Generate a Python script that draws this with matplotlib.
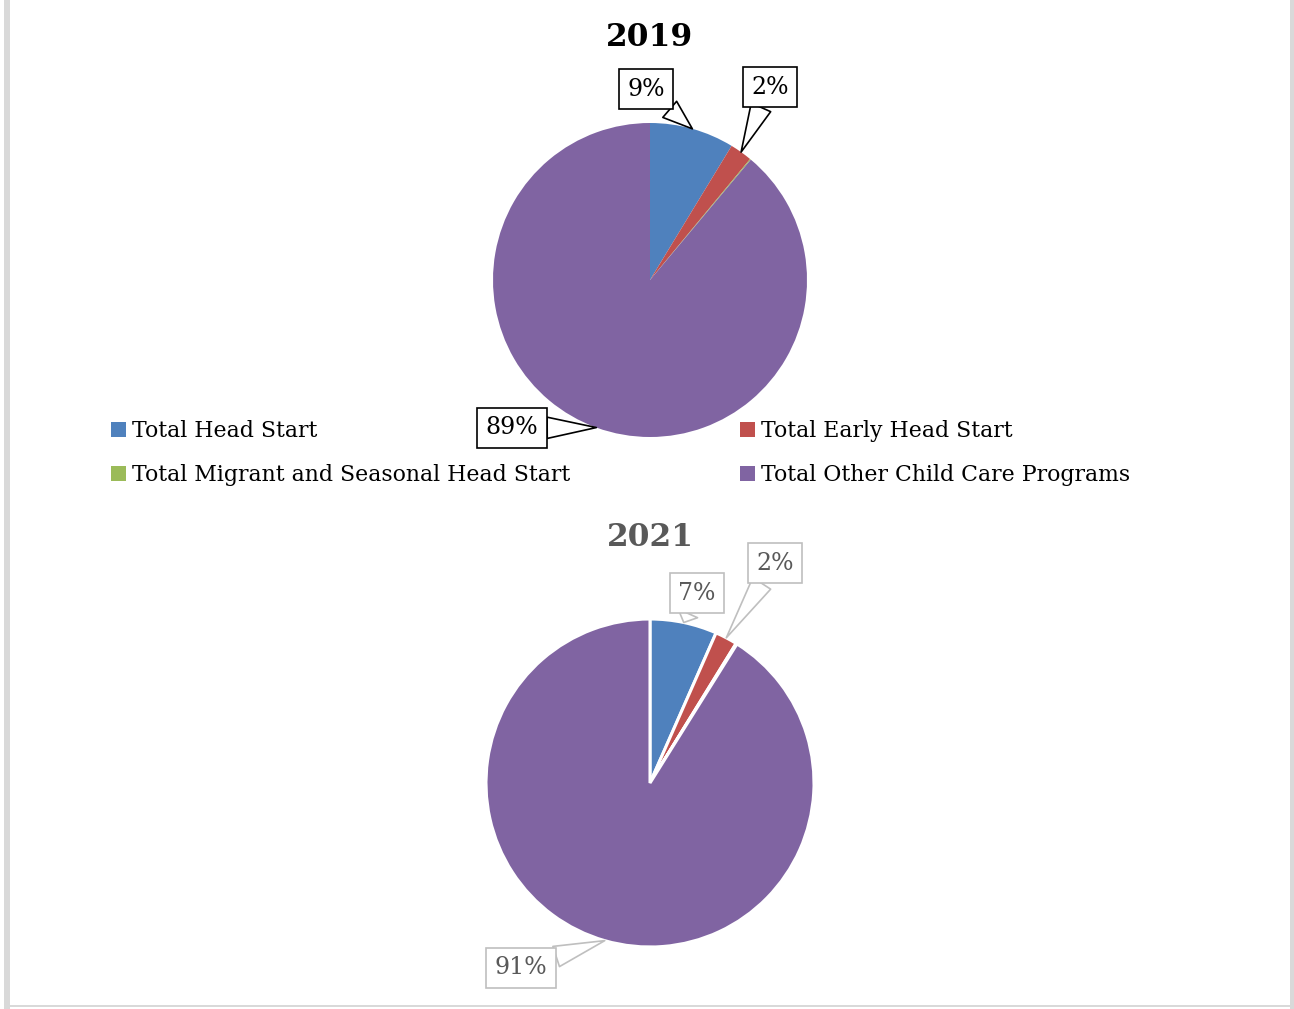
import matplotlib
matplotlib.use("Agg")
import matplotlib.pyplot as plt
from matplotlib.patches import Patch, Rectangle
import numpy as np

categories = ["Total Head Start", "Total Early Head Start",
              "Total Migrant and Seasonal Head Start", "Total Other Child Care Programs"]
values_2019 = [8.7, 2.3, 0.1, 88.9]
values_2021 = [6.6, 2.2, 0.1, 91.1]
years = ["2019", "2021"]

colors = ["#4F81BD", "#C0504D", "#9BBB59", "#8064A2"]

W, H = 1294, 1009
plt.rcParams['font.family'] = ['DejaVu Serif']

fig = plt.figure(figsize=(W / 100, H / 100), dpi=100)
ax = fig.add_axes([0, 0, 1, 1])


def py(y):
    return H - y


pie_specs = [
    dict(values=values_2019, cx=650, cy=280, r=157, lw=0, tc="black", ec="black", title_y=38,
         label_pos=[(646, 89), (770, 87), None, (512, 428)]),
    dict(values=values_2021, cx=650, cy=783, r=164, lw=2.2, tc="#595959", ec="#BFBFBF", title_y=537,
         label_pos=[(697, 593), (775, 563), None, (521, 968)]),
]

for year, spec in zip(years, pie_specs):
    wedges, _ = ax.pie(spec["values"], colors=colors, startangle=90, counterclock=False,
                       center=(spec["cx"], py(spec["cy"])), radius=spec["r"],
                       wedgeprops=dict(edgecolor="white", linewidth=spec["lw"]))
    ax.text(spec["cx"], py(spec["title_y"]), year, ha="center", va="center",
            fontsize=22.5, fontweight="bold", color=spec["tc"])
    for w, v, pos in zip(wedges, spec["values"], spec["label_pos"]):
        if pos is None:
            continue
        th = np.deg2rad((w.theta1 + w.theta2) / 2)
        xy = (spec["cx"] + spec["r"] * np.cos(th), py(spec["cy"]) + spec["r"] * np.sin(th))
        ax.annotate(f"{round(v)}%", xy=xy, xytext=(pos[0], py(pos[1])),
                    ha="center", va="center", fontsize=17, color=spec["tc"],
                    bbox=dict(boxstyle="square,pad=0.35", fc="white", ec=spec["ec"], lw=1.2),
                    arrowprops=dict(arrowstyle="wedge,tail_width=0.9,shrink_factor=0.5",
                                    fc="white", ec=spec["ec"], lw=1.2,
                                    shrinkA=0, shrinkB=0))

ax.set_xlim(0, W)
ax.set_ylim(0, H)
ax.set_aspect("equal")
ax.axis("off")

handles = [Patch(facecolor=c, edgecolor="none") for c in colors]
leg_kw = dict(frameon=False, fontsize=15.8, handlelength=0.7, handleheight=0.7,
              handletextpad=0.24, labelspacing=1.0, borderaxespad=0, borderpad=0)
leg1 = fig.legend([handles[0], handles[2]], [categories[0], categories[2]],
                  loc="upper left", bbox_to_anchor=(111 / W, 1 - 420 / H), **leg_kw)
leg2 = fig.legend([handles[1], handles[3]], [categories[1], categories[3]],
                  loc="upper left", bbox_to_anchor=(740 / W, 1 - 420 / H), **leg_kw)

# page border
border = "#D9D9D9"
fig.add_artist(Rectangle((4 / W, 0), 6 / W, 1, transform=fig.transFigure, fc=border, ec="none"))
fig.add_artist(Rectangle((1290 / W, 0), 4 / W, 1, transform=fig.transFigure, fc=border, ec="none"))
fig.add_artist(Rectangle((10 / W, 2 / H), 1280 / W, 2 / H, transform=fig.transFigure, fc=border, ec="none"))

fig.savefig("out.png", dpi=100)
